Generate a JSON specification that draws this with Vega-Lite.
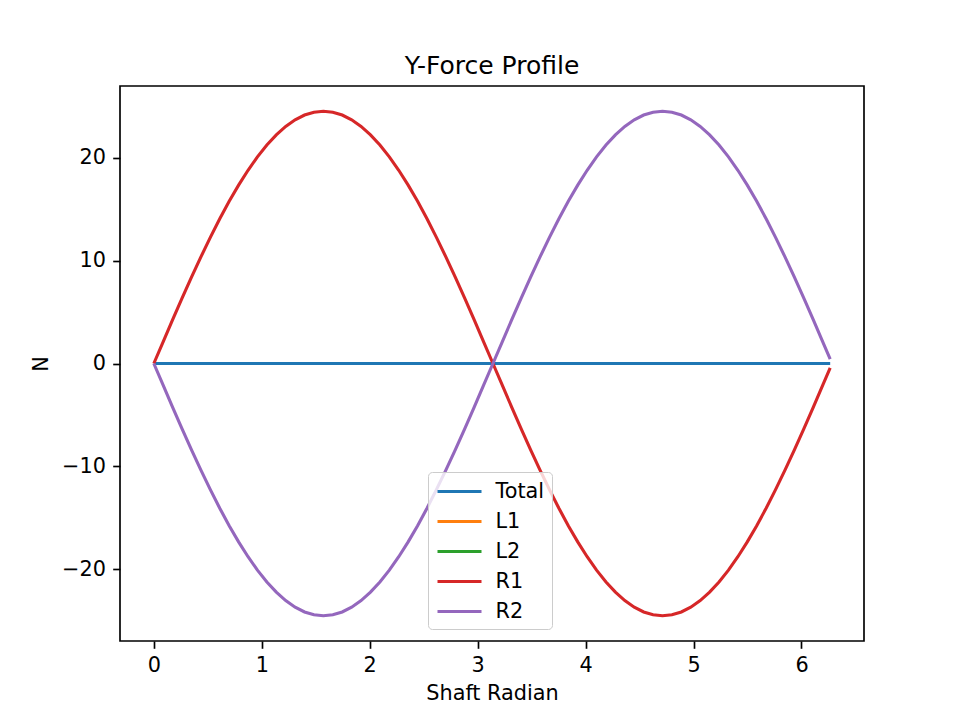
{
  "$schema": "https://vega.github.io/schema/vega-lite/v6.json",
  "autosize": {"type": "none"},
  "padding": {"left": 120, "top": 86, "right": 96, "bottom": 79},
  "width": 744,
  "height": 555,
  "background": "white",
  "title": {"text": "Y-Force Profile", "font": "DejaVu Sans", "fontSize": 25, "fontWeight": "normal", "color": "black", "anchor": "middle", "frame": "group", "offset": 7},
  "data": {"values": [
    {"x": 0, "Total": 0, "R1": 0, "R2": 0},
    {"x": 0.0873, "Total": 0, "R1": 2.135, "R2": -2.135},
    {"x": 0.1745, "Total": 0, "R1": 4.254, "R2": -4.254},
    {"x": 0.2618, "Total": 0, "R1": 6.341, "R2": -6.341},
    {"x": 0.3491, "Total": 0, "R1": 8.380, "R2": -8.380},
    {"x": 0.4363, "Total": 0, "R1": 10.354, "R2": -10.354},
    {"x": 0.5236, "Total": 0, "R1": 12.25, "R2": -12.25},
    {"x": 0.6109, "Total": 0, "R1": 14.053, "R2": -14.053},
    {"x": 0.6981, "Total": 0, "R1": 15.748, "R2": -15.748},
    {"x": 0.7854, "Total": 0, "R1": 17.324, "R2": -17.324},
    {"x": 0.8727, "Total": 0, "R1": 18.768, "R2": -18.768},
    {"x": 0.9599, "Total": 0, "R1": 20.069, "R2": -20.069},
    {"x": 1.0472, "Total": 0, "R1": 21.218, "R2": -21.218},
    {"x": 1.1345, "Total": 0, "R1": 22.205, "R2": -22.205},
    {"x": 1.2217, "Total": 0, "R1": 23.022, "R2": -23.022},
    {"x": 1.3090, "Total": 0, "R1": 23.665, "R2": -23.665},
    {"x": 1.3963, "Total": 0, "R1": 24.128, "R2": -24.128},
    {"x": 1.4835, "Total": 0, "R1": 24.407, "R2": -24.407},
    {"x": 1.5708, "Total": 0, "R1": 24.5, "R2": -24.5},
    {"x": 1.6581, "Total": 0, "R1": 24.407, "R2": -24.407},
    {"x": 1.7453, "Total": 0, "R1": 24.128, "R2": -24.128},
    {"x": 1.8326, "Total": 0, "R1": 23.665, "R2": -23.665},
    {"x": 1.9199, "Total": 0, "R1": 23.022, "R2": -23.022},
    {"x": 2.0071, "Total": 0, "R1": 22.205, "R2": -22.205},
    {"x": 2.0944, "Total": 0, "R1": 21.218, "R2": -21.218},
    {"x": 2.1817, "Total": 0, "R1": 20.069, "R2": -20.069},
    {"x": 2.2689, "Total": 0, "R1": 18.768, "R2": -18.768},
    {"x": 2.3562, "Total": 0, "R1": 17.324, "R2": -17.324},
    {"x": 2.4435, "Total": 0, "R1": 15.748, "R2": -15.748},
    {"x": 2.5307, "Total": 0, "R1": 14.053, "R2": -14.053},
    {"x": 2.6180, "Total": 0, "R1": 12.25, "R2": -12.25},
    {"x": 2.7053, "Total": 0, "R1": 10.354, "R2": -10.354},
    {"x": 2.7925, "Total": 0, "R1": 8.380, "R2": -8.380},
    {"x": 2.8798, "Total": 0, "R1": 6.341, "R2": -6.341},
    {"x": 2.9671, "Total": 0, "R1": 4.254, "R2": -4.254},
    {"x": 3.0543, "Total": 0, "R1": 2.135, "R2": -2.135},
    {"x": 3.1416, "Total": 0, "R1": 0, "R2": 0},
    {"x": 3.2289, "Total": 0, "R1": -2.135, "R2": 2.135},
    {"x": 3.3161, "Total": 0, "R1": -4.254, "R2": 4.254},
    {"x": 3.4034, "Total": 0, "R1": -6.341, "R2": 6.341},
    {"x": 3.4907, "Total": 0, "R1": -8.380, "R2": 8.380},
    {"x": 3.5779, "Total": 0, "R1": -10.354, "R2": 10.354},
    {"x": 3.6652, "Total": 0, "R1": -12.25, "R2": 12.25},
    {"x": 3.7525, "Total": 0, "R1": -14.053, "R2": 14.053},
    {"x": 3.8397, "Total": 0, "R1": -15.748, "R2": 15.748},
    {"x": 3.9270, "Total": 0, "R1": -17.324, "R2": 17.324},
    {"x": 4.0143, "Total": 0, "R1": -18.768, "R2": 18.768},
    {"x": 4.1015, "Total": 0, "R1": -20.069, "R2": 20.069},
    {"x": 4.1888, "Total": 0, "R1": -21.218, "R2": 21.218},
    {"x": 4.2761, "Total": 0, "R1": -22.205, "R2": 22.205},
    {"x": 4.3633, "Total": 0, "R1": -23.022, "R2": 23.022},
    {"x": 4.4506, "Total": 0, "R1": -23.665, "R2": 23.665},
    {"x": 4.5379, "Total": 0, "R1": -24.128, "R2": 24.128},
    {"x": 4.6251, "Total": 0, "R1": -24.407, "R2": 24.407},
    {"x": 4.7124, "Total": 0, "R1": -24.5, "R2": 24.5},
    {"x": 4.7997, "Total": 0, "R1": -24.407, "R2": 24.407},
    {"x": 4.8869, "Total": 0, "R1": -24.128, "R2": 24.128},
    {"x": 4.9742, "Total": 0, "R1": -23.665, "R2": 23.665},
    {"x": 5.0615, "Total": 0, "R1": -23.022, "R2": 23.022},
    {"x": 5.1487, "Total": 0, "R1": -22.205, "R2": 22.205},
    {"x": 5.2360, "Total": 0, "R1": -21.218, "R2": 21.218},
    {"x": 5.3233, "Total": 0, "R1": -20.069, "R2": 20.069},
    {"x": 5.4105, "Total": 0, "R1": -18.768, "R2": 18.768},
    {"x": 5.4978, "Total": 0, "R1": -17.324, "R2": 17.324},
    {"x": 5.5851, "Total": 0, "R1": -15.748, "R2": 15.748},
    {"x": 5.6723, "Total": 0, "R1": -14.053, "R2": 14.053},
    {"x": 5.7596, "Total": 0, "R1": -12.25, "R2": 12.25},
    {"x": 5.8469, "Total": 0, "R1": -10.354, "R2": 10.354},
    {"x": 5.9341, "Total": 0, "R1": -8.380, "R2": 8.380},
    {"x": 6.0214, "Total": 0, "R1": -6.341, "R2": 6.341},
    {"x": 6.1087, "Total": 0, "R1": -4.254, "R2": 4.254},
    {"x": 6.1959, "Total": 0, "R1": -2.135, "R2": 2.135},
    {"x": 6.2657, "Total": 0, "R1": -0.428, "R2": 0.428}
  ]},
  "transform": [{"fold": ["Total", "R1", "R2"], "as": ["series", "value"]}],
  "encoding": {
    "x": {"field": "x", "type": "quantitative", "title": "Shaft Radian",
      "scale": {"domain": [-0.3133, 6.579], "nice": false, "zero": false},
      "axis": {"values": [0, 1, 2, 3, 4, 5, 6], "format": "d"}},
    "y": {"field": "value", "type": "quantitative", "title": "N",
      "scale": {"domain": [-26.95, 26.95], "nice": false},
      "axis": {"values": [-20, -10, 0, 10, 20], "format": "d"}},
    "color": {"field": "series", "type": "nominal", "sort": null,
      "scale": {"domain": ["Total", "L1", "L2", "R1", "R2"], "range": ["#1f77b4", "#ff7f0e", "#2ca02c", "#d62728", "#9467bd"]},
      "legend": {"title": null, "orient": "none", "legendX": 308, "legendY": 386}}
  },
  "layer": [
    {"transform": [{"filter": {"field": "series", "equal": "Total"}}], "mark": {"type": "line", "strokeWidth": 3.1, "clip": true}},
    {"transform": [{"filter": {"field": "series", "equal": "R1"}}], "mark": {"type": "line", "strokeWidth": 3.1, "clip": true}},
    {"transform": [{"filter": {"field": "series", "equal": "R2"}}], "mark": {"type": "line", "strokeWidth": 3.1, "clip": true}}
  ],
  "config": {
    "font": "DejaVu Sans",
    "view": {"stroke": "black", "strokeWidth": 1.67},
    "axis": {"grid": false, "domain": false, "tickColor": "black", "tickWidth": 1.67, "tickSize": 7.3, "labelPadding": 7.3,
      "labelFont": "DejaVu Sans", "labelFontSize": 20.8, "labelColor": "black",
      "titleFont": "DejaVu Sans", "titleFontSize": 20.8, "titleFontWeight": "normal", "titleColor": "black"},
    "axisX": {"titlePadding": 8},
    "axisY": {"titlePadding": 10},
    "legend": {"symbolType": "M-1,0H3.4", "symbolSize": 400, "symbolStrokeWidth": 3.1, "labelFont": "DejaVu Sans", "labelFontSize": 20.8, "labelColor": "black",
      "labelOffset": 36, "rowPadding": 8, "padding": 7.5, "strokeColor": "#cccccc", "fillColor": "rgba(255,255,255,0.8)", "cornerRadius": 4}
  }
}
